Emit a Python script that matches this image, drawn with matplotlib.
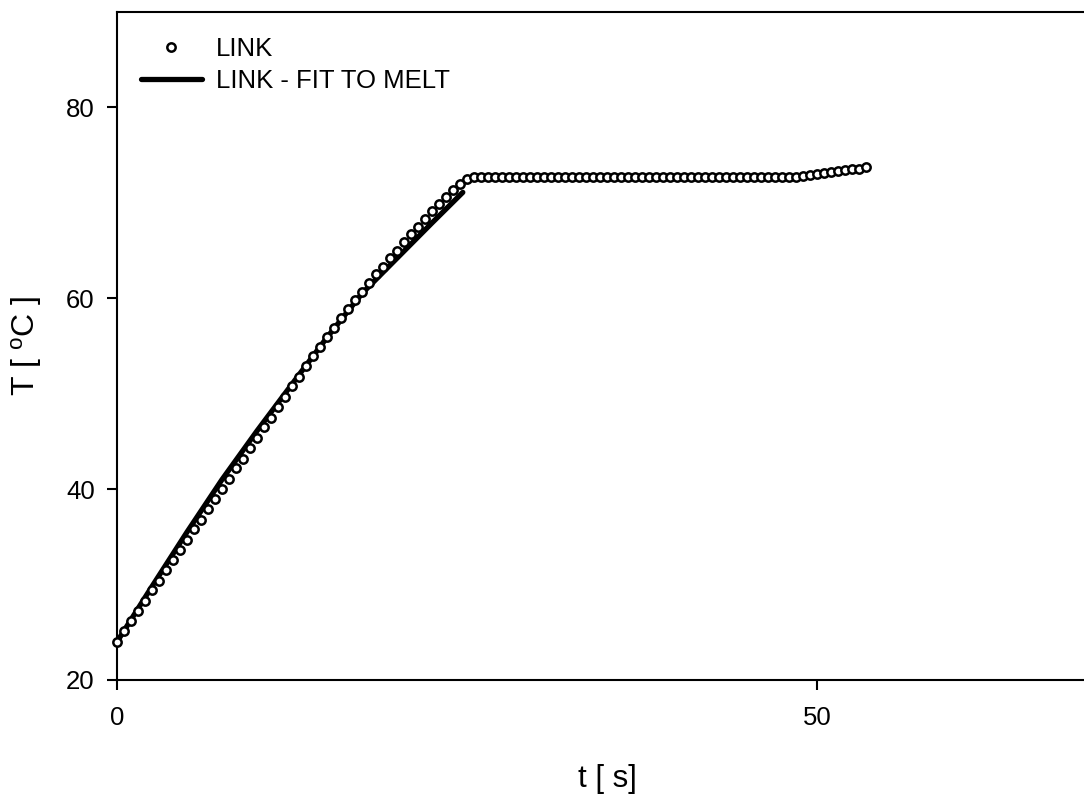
import matplotlib
matplotlib.use("Agg")
import matplotlib.pyplot as plt

plt.rcParams['font.family'] = ['Liberation Sans', 'DejaVu Sans']

# measured data (LINK), sampled every 0.5 s
t_data = [i * 0.5 for i in range(108)]
T_data = [
    24.0, 25.1, 26.2, 27.2, 28.3, 29.4, 30.4, 31.5, 32.6, 33.6,
    34.7, 35.8, 36.8, 37.9, 39.0, 40.0, 41.1, 42.2, 43.2, 44.3,
    45.4, 46.5, 47.5, 48.6, 49.7, 50.8, 51.8, 52.9, 53.9, 54.9,
    55.9, 56.9, 57.9, 58.9, 59.8, 60.7, 61.6, 62.5, 63.3, 64.2,
    65.0, 65.9, 66.7, 67.5, 68.3, 69.1, 69.9, 70.6, 71.3, 72.0,
    72.5, 72.7, 72.7, 72.7, 72.7, 72.7, 72.7, 72.7, 72.7, 72.7,
    72.7, 72.7, 72.7, 72.7, 72.7, 72.7, 72.7, 72.7, 72.7, 72.7,
    72.7, 72.7, 72.7, 72.7, 72.7, 72.7, 72.7, 72.7, 72.7, 72.7,
    72.7, 72.7, 72.7, 72.7, 72.7, 72.7, 72.7, 72.7, 72.7, 72.7,
    72.7, 72.7, 72.7, 72.7, 72.7, 72.7, 72.7, 72.7, 72.8, 72.9,
    73.0, 73.1, 73.2, 73.3, 73.4, 73.5, 73.6, 73.8,
]

# fit to melt
t_fit = [0.0, 2.5, 5.0, 7.5, 10.0, 12.5, 15.0, 17.5, 20.0, 22.5, 24.7]
T_fit = [24.0, 29.8, 35.5, 41.0, 46.1, 51.0, 55.9, 60.5, 64.2, 67.9, 71.1]

x_ticks = [0, 50]
y_ticks = [20, 40, 60, 80]

fig = plt.figure(figsize=(10.84, 7.98), dpi=100)
ax = fig.add_axes([117 / 1084, 1 - 680 / 798, 980 / 1084, 668 / 798])

ax.plot(t_fit, T_fit, color='black', lw=3.8, solid_capstyle='round',
        label='LINK - FIT TO MELT', zorder=2)
ax.plot(t_data, T_data, linestyle='none', marker='o', ms=6.0, mew=1.8,
        mfc='white', mec='black', label='LINK', zorder=3, clip_on=False)

ax.set_xlim(0, 70)
ax.set_ylim(20, 90)
ax.set_xticks(x_ticks)
ax.set_yticks(y_ticks)

for side in ['left', 'bottom', 'top', 'right']:
    ax.spines[side].set_linewidth(1.5)
ax.tick_params(axis='both', direction='out', length=7, width=1.5,
               labelsize=18.5, top=False, right=False)
ax.tick_params(axis='x', pad=12)
ax.tick_params(axis='y', pad=9)

ax.set_xlabel('t [ s]', fontsize=22.5, labelpad=24)
ax.set_ylabel('T [ $\\mathregular{^{o}}$C ]', fontsize=23, labelpad=16)

handles, labels = ax.get_legend_handles_labels()
leg = ax.legend([handles[1], handles[0]], [labels[1], labels[0]],
                loc='upper left', bbox_to_anchor=(0.024, 0.962),
                frameon=False, fontsize=18.5, handlelength=2.4,
                handletextpad=0.55, labelspacing=0.28, borderpad=0,
                borderaxespad=0)

fig.savefig('out.png', dpi=100)
